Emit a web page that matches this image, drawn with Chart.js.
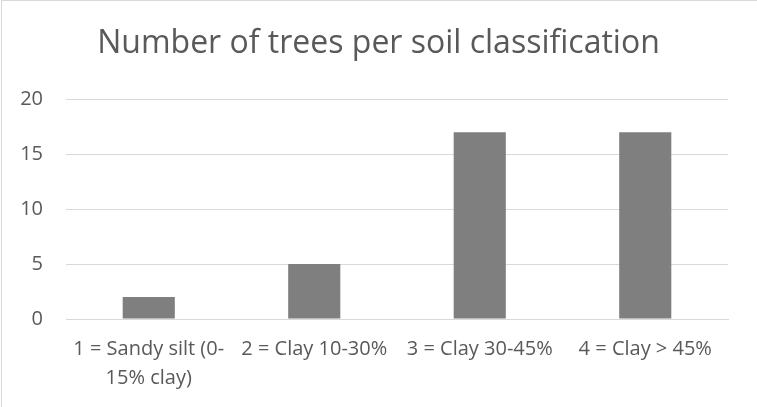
<!DOCTYPE html>
<html>
<head>
<meta charset="utf-8">
<script src="https://cdn.jsdelivr.net/npm/chart.js@4"></script>
<style>
    html, body { margin: 0; padding: 0; background: #ffffff; }
    #wrap {
        position: absolute;
        left: 0; top: 0;
        width: 757px; height: 407px;
        overflow: hidden;
    }
    #frame {
        position: absolute;
        left: 1px; top: 0px;
        width: 780px; height: 420px;
        border: 1px solid #d9d9d9;
        box-sizing: border-box;
        pointer-events: none;
    }
</style>
</head>
<body>
<div id="wrap">
    <canvas id="soilChart" width="757" height="407"></canvas>
    <div id="frame"></div>
</div>
<script>
// Chart data
const categories = [
    ['1 = Sandy silt (0-', '15% clay)'],
    '2 = Clay 10-30%',
    '3 = Clay 30-45%',
    '4 = Clay > 45%'
];
const treeCounts = [2, 5, 17, 17];
const yTicks = [0, 5, 10, 15, 20];

document.addEventListener('DOMContentLoaded', function() {
    initializeSoilChart();
});

// Initialize the trees per soil class bar chart
function initializeSoilChart() {
    const ctx = document.getElementById('soilChart');
    if (!ctx) return;

    const textColor = '#595959';
    const gridColor = '#d9d9d9';

    new Chart(ctx, {
        type: 'bar',
        data: {
            labels: categories,
            datasets: [{
                label: 'Number of trees',
                data: treeCounts,
                backgroundColor: '#7f7f7f',
                borderWidth: 0,
                categoryPercentage: 1,
                barPercentage: 0.315
            }]
        },
        options: {
            responsive: false,
            animation: false,
            layout: {
                padding: 0
            },
            plugins: {
                legend: { display: false },
                tooltip: { enabled: false },
                title: {
                    display: true,
                    text: 'Number of trees per soil classification',
                    color: textColor,
                    font: { family: 'Open Sans', size: 32, weight: 'normal', lineHeight: 1.2 },
                    padding: { top: 25, bottom: 36 }
                }
            },
            scales: {
                x: {
                    grid: { display: false, drawTicks: false },
                    border: { display: true, color: gridColor, width: 1 },
                    ticks: {
                        color: textColor,
                        font: { family: 'Open Sans', size: 20, lineHeight: 1.45 },
                        padding: 16,
                        maxRotation: 0,
                        autoSkip: false
                    },
                    afterFit: scale => { scale.height = 88; }
                },
                y: {
                    min: yTicks[0],
                    max: yTicks[yTicks.length - 1],
                    afterBuildTicks: scale => {
                        scale.ticks = yTicks.map(v => ({ value: v }));
                    },
                    grid: { color: gridColor, drawTicks: false },
                    border: { display: false },
                    ticks: {
                        color: textColor,
                        font: { family: 'Open Sans', size: 20 },
                        padding: 23
                    },
                    afterFit: scale => { scale.width = 66; }
                },
                // empty right-hand spacer so the title stays centred on the canvas
                spacer: {
                    position: 'right',
                    grid: { display: false, drawTicks: false },
                    border: { display: false },
                    ticks: { display: false },
                    afterFit: scale => { scale.width = 29; }
                }
            }
        }
    });
}
</script>
</body>
</html>
